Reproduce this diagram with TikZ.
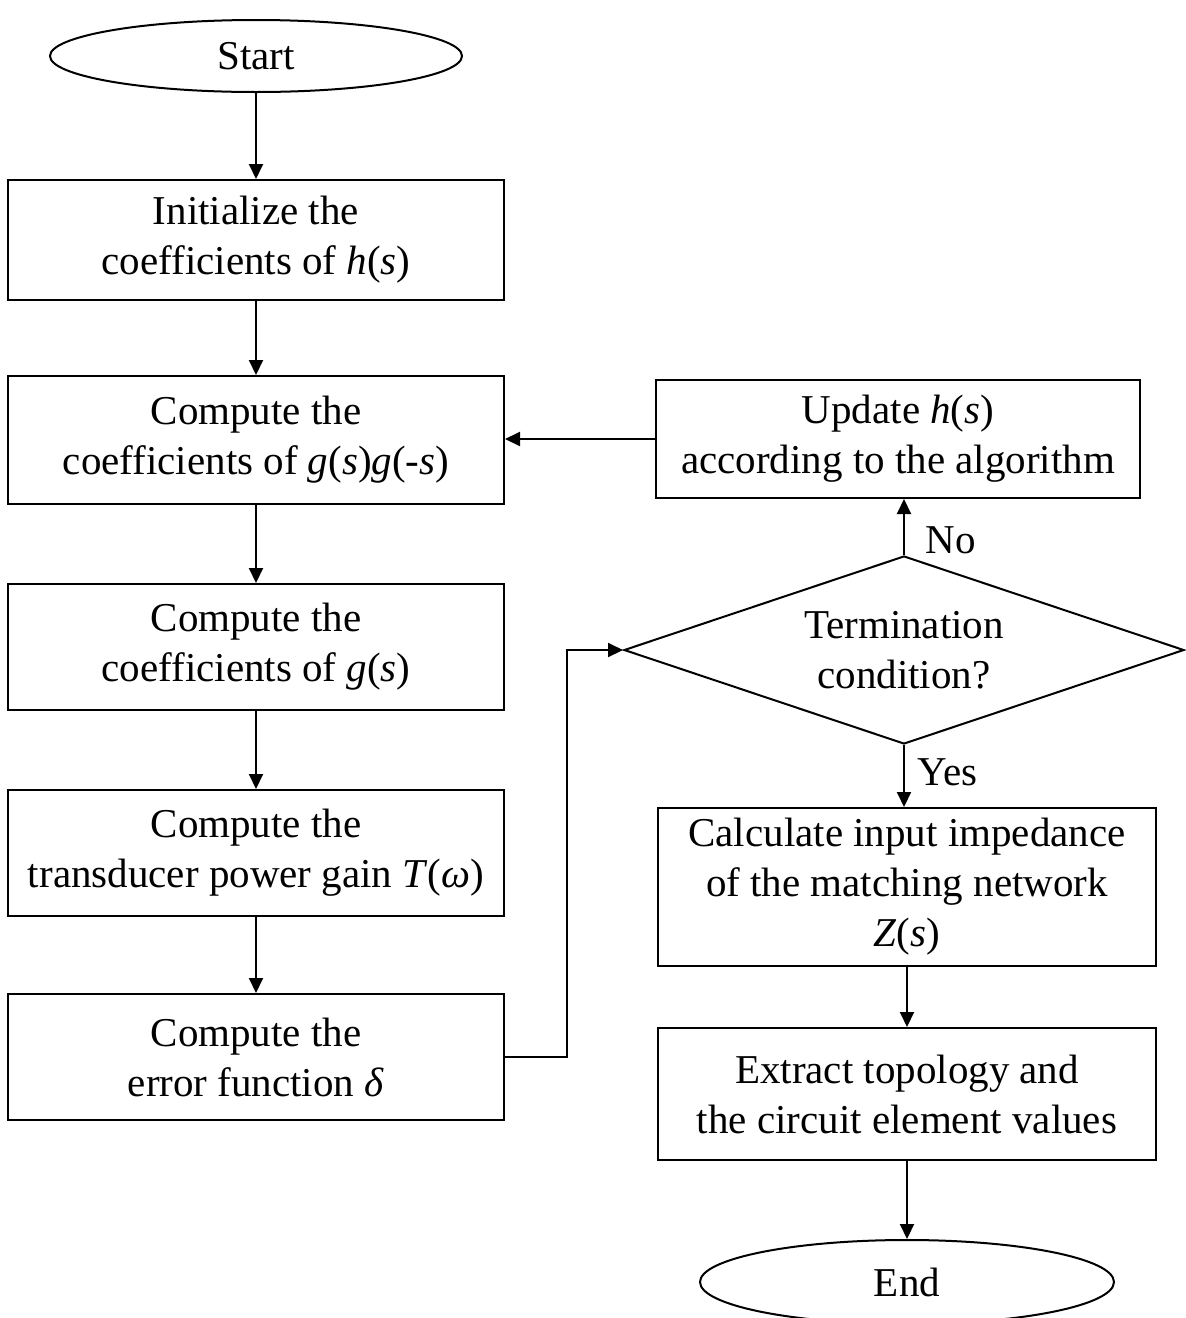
\documentclass[tikz,border=0pt]{standalone}
\usepackage{fontspec}
\setmainfont{Liberation Serif}
\usepackage{tikz}
\usetikzlibrary{positioning,shapes,shapes.geometric,arrows.meta}

\newcommand{\vr}[1]{\textit{#1}}

\begin{document}
\begin{tikzpicture}[x=0.5pt,y=-0.5pt,
	line width=1pt,
	every node/.style={font=\fontsize{20.5pt}{25pt}\selectfont},
	stepnode/.style={draw,rectangle,align=center,minimum width=248pt,inner sep=2pt},
	termnode/.style={draw,ellipse,minimum width=206pt,minimum height=36pt},
	condnode/.style={draw,diamond,align=center,aspect=2.97,minimum width=280pt,minimum height=94pt,inner sep=0pt},
	arr/.style={-{Triangle[length=7.5pt,width=7pt]}},
	]
	
	\useasboundingbox (0,0) rectangle (1186,1318);
	
	% left column
	\node[termnode] (start) at (256,56) {Start};
	\node[stepnode,minimum height=60pt] (box1) at (256,240) {Initialize the\\coefficients of \vr{h}(\vr{s})};
	\node[stepnode,minimum height=64pt] (box2) at (256,440) {Compute the\\coefficients of \vr{g}(\vr{s})\vr{g}(-\vr{s})};
	\node[stepnode,minimum height=63pt] (box3) at (256,647) {Compute the\\coefficients of \vr{g}(\vr{s})};
	\node[stepnode,minimum height=63pt] (box4) at (256,853) {Compute the\\transducer power gain \vr{T}(\vr{ω})};
	\node[stepnode,minimum height=63pt] (box5) at (256,1057) {Compute the\\error function \vr{δ}};
	
	% right column
	\node[stepnode,minimum width=242pt,minimum height=59pt] (upd) at (898,439) {Update \vr{h}(\vr{s})\\according to the algorithm};
	\node[condnode] (cond) at (904,650) {Termination\\condition?};
	\node[stepnode,minimum width=249pt,minimum height=79pt] (calc) at (907,887) {Calculate input impedance\\of the matching network\\\vr{Z}(\vr{s})};
	\node[stepnode,minimum width=249pt,minimum height=66pt] (extr) at (907,1094) {Extract topology and\\the circuit element values};
	\node[termnode,minimum width=207pt,minimum height=42pt] (stop) at (907,1282) {End};
	
	% labels
	\node[anchor=west] (no) at (918,540) {No};
	\node[anchor=west] (yes) at (910,772) {Yes};
	
	% main flow
	\draw[arr] (start) -- (box1);
	\draw[arr] (box1) -- (box2);
	\draw[arr] (box2) -- (box3);
	\draw[arr] (box3) -- (box4);
	\draw[arr] (box4) -- (box5);
	
	% loop
	\draw[arr] (box5.east) -- ++(62,0) |- (cond.west);
	\draw[arr] (cond.north) -- (cond.north |- upd.south);
	\draw[arr] (upd.west) -- (upd.west -| box2.east);
	
	% exit
	\draw[arr] (cond.south) -- (cond.south |- calc.north);
	\draw[arr] (calc) -- (extr);
	\draw[arr] (extr) -- (stop);
	
\end{tikzpicture}
\end{document}
